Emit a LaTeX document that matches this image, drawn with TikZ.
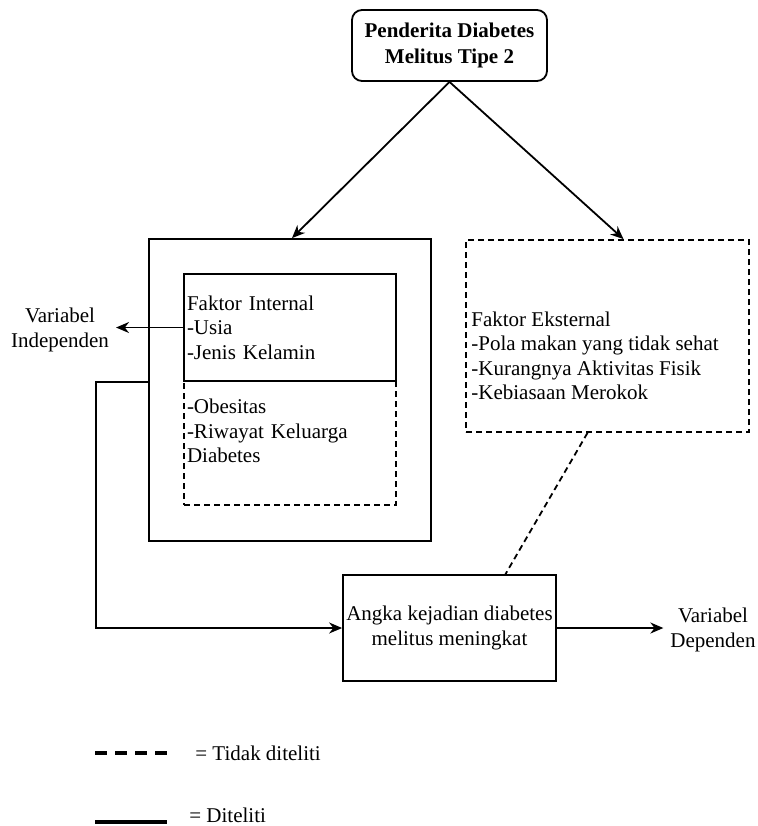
\documentclass[tikz,border=0pt]{standalone}
\usepackage{fontspec}
\setmainfont{Liberation Serif}
\usetikzlibrary{arrows.meta}

\tikzset{
  box/.style={draw, line width=0.9pt, inner sep=0pt},
  dbox/.style={box, dash pattern=on 3pt off 2pt},
  txt/.style={font=\fontsize{10.5}{12.25}\selectfont, align=center},
  arr/.style={line width=0.9pt, -{Stealth[length=6.5pt,width=5.5pt]}},
}

\begin{document}
\begin{tikzpicture}[x=0.5pt,y=-0.5pt]
\useasboundingbox (0,0) rectangle (758,826);

% Top node
\node[box, rounded corners=5pt, minimum width=97.5pt, minimum height=35.5pt, align=center,
      font=\fontsize{10.5}{13}\selectfont\bfseries] (pend) at (449.5,45.5) {Penderita Diabetes\\Melitus Tipe 2};

% Outer box
\node[box, minimum width=141pt, minimum height=151pt] (outer) at (290,390) {};

% Internal factors
\node[dbox, txt, align=left, minimum width=106pt, minimum height=62pt, text width=103pt, inner xsep=1.5pt]
  (intdash) at (290,443) {-Obesitas\\-Riwayat Keluarga\\Diabetes\\~};
\node[box, txt, align=left, minimum width=106pt, minimum height=53.5pt, text width=103pt, inner xsep=1.5pt]
  (intin) at (290,327.5) {Faktor Internal\\-Usia\\-Jenis Kelamin};

% External factors
\node[dbox, minimum width=141.5pt, minimum height=96pt] (ext) at (607.5,336) {};
\node[txt, align=left, anchor=west, inner sep=0pt] (exttxt) at (471,356)
  {Faktor Eksternal\\-Pola makan yang tidak sehat\\-Kurangnya Aktivitas Fisik\\-Kebiasaan Merokok};

% Outcome
\node[box, txt, minimum width=106.5pt, minimum height=53pt] (angka) at (449.5,628)
  {Angka kejadian diabetes\\melitus meningkat};

% Variable labels
\node[txt] (varind) at (60,330) {Variabel\\Independen};
\node[txt] (vardep) at (713,630) {Variabel\\Dependen};

% Arrows
\draw[arr] (pend.south) -- ([xshift=1pt]outer.north);
\draw[arr] (pend.south) -- ([xshift=8pt]ext.north);
\draw[arr] (intin.west) -- (intin.west -| varind.east);
\draw[arr] (outer.west |- intin.south) -- ++(-52,0) |- (angka.west);
\draw[arr] (angka.east) -- (angka.east -| vardep.west);
\draw[line width=0.9pt, dash pattern=on 3pt off 2pt] ([xshift=-10pt]ext.south) -- ([xshift=28pt]angka.north);

% Legend
\draw[line width=2pt, dash pattern=on 6pt off 4pt] (95,753) -- (167,753);
\node[txt, anchor=west, inner sep=0pt] (legdash) at (195,753) {= Tidak diteliti};
\draw[line width=2pt] (95,822) -- (167,822);
\node[txt, anchor=west, inner sep=0pt] (legline) at (189,815) {= Diteliti};

\end{tikzpicture}
\end{document}
